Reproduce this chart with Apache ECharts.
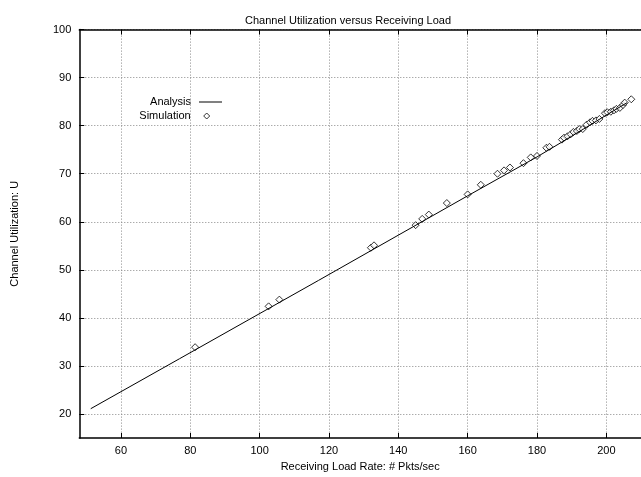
<!DOCTYPE html>
<html>
<head>
<meta charset="utf-8">
<script src="https://cdn.jsdelivr.net/npm/echarts@6/dist/echarts.min.js"></script>
<style>
html,body{margin:0;padding:0;background:#fff;}
#c{width:641px;height:477px;}
</style>
</head>
<body>
<div id="c"></div>
<script>
var titleText = 'Channel Utilization versus Receiving Load';
var xName = 'Receiving Load Rate: # Pkts/sec';
var yName = 'Channel Utilization: U';
var xTicks = [60, 80, 100, 120, 140, 160, 180, 200];
var yTicks = [20, 30, 40, 50, 60, 70, 80, 90, 100];

var anaX = [51.3, 76.9, 117, 160, 180, 190, 200, 206];
var anaY = [21.1, 31.5, 47.8, 65.4, 73.5, 77.8, 82.2, 84.8];

var simX = [81.4, 102.6, 105.7, 132.1, 133.0, 145.0, 146.9, 148.8, 154.0, 160.0, 163.8,
  168.6, 170.5, 172.2, 176.1, 178.2, 180.0, 182.7, 183.6, 187.2, 187.8, 188.8, 189.7,
  190.5, 191.5, 192.2, 193.2, 194.3, 195.3, 196.0, 197.0, 198.0, 199.6, 200.3, 201.3,
  202.2, 202.9, 203.9, 204.8, 205.3, 207.2];
var simY = [33.9, 42.4, 43.8, 54.6, 55.1, 59.3, 60.6, 61.5, 63.9, 65.7, 67.7,
  70.0, 70.7, 71.3, 72.2, 73.4, 73.7, 75.4, 75.6, 77.1, 77.5, 77.8, 78.2,
  78.7, 78.9, 79.3, 79.3, 80.2, 80.7, 81.0, 81.1, 81.4, 82.6, 82.8, 82.9,
  83.2, 83.5, 83.7, 84.3, 84.8, 85.5];

function pairs(xs, ys){ var out=[]; for (var i=0;i<xs.length;i++) out.push([xs[i], ys[i]]); return out; }

var FONT = 'Liberation Sans, Arial, Helvetica, sans-serif';
var chart = echarts.init(document.getElementById('c'), null, {renderer:'canvas'});
var axisLineStyle = {color:'#000', width:1.5};
var legendText = {fontSize:11, color:'#000', fontFamily:FONT};
chart.setOption({
  animation:false,
  backgroundColor:'#fff',
  textStyle:{fontFamily:FONT, color:'#000'},
  title:{text:titleText, left:240, top:10, textStyle:{fontSize:11, fontWeight:'normal', color:'#000', fontFamily:FONT}},
  grid:{left:79.3, top:29.6, right:-3.6, bottom:34.3, containLabel:false},
  legend:[{
    orient:'vertical', right:419, top:96.5, align:'right', padding:0,
    itemWidth:23, itemHeight:1,
    textStyle:Object.assign({padding:[0,3,0,0]}, legendText),
    data:[{name:'Analysis', icon:'rect', itemStyle:{color:'#000', borderWidth:0}}]
  },{
    orient:'vertical', right:430.8, top:110.5, align:'right', padding:0,
    itemWidth:6, itemHeight:6,
    textStyle:Object.assign({padding:[0,8,0,0]}, legendText),
    data:[{name:'Simulation', icon:'diamond', itemStyle:{color:'#fff', borderColor:'#000', borderWidth:1}}]
  }],
  xAxis:[{
    type:'value', min:48, max:210, position:'bottom',
    name:xName, nameLocation:'middle', nameGap:23,
    nameTextStyle:{fontSize:11, color:'#000', fontFamily:FONT},
    axisLine:{show:true, onZero:false, lineStyle:axisLineStyle},
    axisTick:{show:true, inside:true, length:5, customValues:xTicks, lineStyle:{color:'#000', width:1}},
    axisLabel:{show:true, customValues:xTicks, fontSize:11, color:'#000', margin:7, fontFamily:FONT},
    splitLine:{show:true, lineStyle:{color:'#888', type:[1,2], width:1}}
  },{
    type:'value', min:48, max:210, position:'top',
    axisLine:{show:true, onZero:false, lineStyle:axisLineStyle},
    axisTick:{show:true, inside:true, length:5, customValues:xTicks, lineStyle:{color:'#000', width:1}},
    axisLabel:{show:false},
    splitLine:{show:false}
  }],
  yAxis:[{
    type:'value', min:15, max:100, position:'left',
    name:yName, nameLocation:'middle', nameGap:59, nameRotate:90,
    nameTextStyle:{fontSize:11, color:'#000', fontFamily:FONT},
    axisLine:{show:true, onZero:false, lineStyle:axisLineStyle},
    axisTick:{show:true, inside:true, length:5, customValues:yTicks, lineStyle:{color:'#000', width:1}},
    axisLabel:{show:true, customValues:yTicks, fontSize:11, color:'#000', margin:8, fontFamily:FONT},
    splitLine:{show:true, lineStyle:{color:'#888', type:[1,2], width:1}}
  }],
  series:[{
    name:'Analysis', type:'line', data:pairs(anaX, anaY),
    symbol:'none', smooth:false,
    lineStyle:{color:'#000', width:1},
    itemStyle:{color:'#000'}
  },{
    name:'Simulation', type:'scatter', data:pairs(simX, simY),
    symbol:'diamond', symbolSize:7,
    itemStyle:{color:'#fff', borderColor:'#000', borderWidth:1}
  }]
});
</script>
</body>
</html>
